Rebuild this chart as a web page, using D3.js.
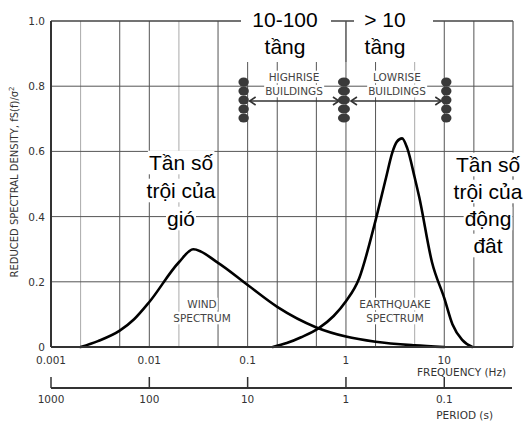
<!DOCTYPE html>
<html>
<head>
<meta charset="utf-8">
<script src="https://cdn.jsdelivr.net/npm/d3@7"></script>
<style>
  body { margin: 0; background: #fff; }
  svg { display: block; }
</style>
</head>
<body>
<div id="chart"></div>
<script>
// wind spectrum (frequency Hz -> reduced spectral density)
var wind_freq   =   [0.002, 0.003, 0.005, 0.007, 0.01, 0.02, 0.028, 0.05, 0.1, 0.2, 0.5, 1, 2, 5, 10];
var wind_val    =   [0, 0.018, 0.05, 0.085, 0.138, 0.26, 0.30, 0.258, 0.19, 0.123, 0.06, 0.032, 0.016, 0.005, 0];

// earthquake spectrum
var quake_freq  =   [0.18, 0.25, 0.35, 0.53, 0.75, 1, 1.36, 1.93, 2.56, 2.95, 3.3, 3.72, 4.2, 5, 5.56, 7.5, 10, 12.1, 15.2, 19.3];
var quake_val   =   [0, 0.012, 0.03, 0.058, 0.095, 0.14, 0.21, 0.37, 0.52, 0.595, 0.63, 0.64, 0.61, 0.52, 0.46, 0.26, 0.15, 0.07, 0.022, 0];

// axes
var freq_ticks      =   [0.001, 0.01, 0.1, 1, 10];
var freq_labels     =   ['0.001', '0.01', '0.1', '1', '10'];
var period_labels   =   ['1000', '100', '10', '1', '0.1'];
var grid_freq       =   [0.002, 0.005, 0.01, 0.02, 0.05, 0.1, 0.2, 0.5, 1, 2, 5, 10, 20];
var light_grid      =   [0.002, 0.02, 5];
var y_ticks         =   [0, 0.2, 0.4, 0.6, 0.8, 1.0];
var y_labels        =   ['0', '0.2', '0.4', '0.6', '0.8', '1.0'];

var chart_width     =   527;
var chart_height    =   422;
var svg             =   d3.select( '#chart' )
    .append( 'svg' )
    .attr( 'width', chart_width )
    .attr( 'height', chart_height );

var x_scale = d3.scaleLog()
                .domain([0.001, 50])
                .range([51, 513]);

var y_scale = d3.scaleLinear()
                .domain([0, 1])
                .range([347, 21]);

var small_font = '"DejaVu Sans", sans-serif';
var big_font   = '"Liberation Sans", Arial, sans-serif';

// grid
svg.append('g').selectAll('line')
    .data(grid_freq)
    .enter()
    .append('line')
    .attr('x1', d => x_scale(d))
    .attr('x2', d => x_scale(d))
    .attr('y1', y_scale(0))
    .attr('y2', y_scale(1))
    .attr('stroke', d => light_grid.indexOf(d) >= 0 ? '#aaa' : '#555')
    .attr('stroke-width', 1);

svg.append('g').selectAll('line')
    .data([0.2, 0.4, 0.6, 0.8])
    .enter()
    .append('line')
    .attr('x1', x_scale(0.001))
    .attr('x2', x_scale(50))
    .attr('y1', d => y_scale(d))
    .attr('y2', d => y_scale(d))
    .attr('stroke', '#555')
    .attr('stroke-width', 1);

// frame: top, right
svg.append('line').attr('x1', x_scale(0.001)).attr('x2', x_scale(50))
    .attr('y1', y_scale(1)).attr('y2', y_scale(1))
    .attr('stroke', '#444').attr('stroke-width', 1.5);
svg.append('line').attr('x1', x_scale(50)).attr('x2', x_scale(50))
    .attr('y1', y_scale(1)).attr('y2', y_scale(0))
    .attr('stroke', '#555').attr('stroke-width', 1.2);

// text with a white box behind, hides grid lines under it
function label(x, y, lines, size, font, color, lh, pad) {
    var g = svg.append('g');
    var bg = g.append('g');
    lines.forEach(function(t, i) {
        var el = g.append('text')
            .attr('x', x)
            .attr('y', y + i * lh)
            .attr('text-anchor', 'middle')
            .attr('font-family', font)
            .attr('font-size', size)
            .attr('fill', color)
            .text(t);
        var b = el.node().getBBox();
        bg.append('rect')
            .attr('x', b.x - pad).attr('y', b.y - pad * 0.3)
            .attr('width', b.width + pad * 2).attr('height', b.height + pad * 0.6)
            .attr('fill', '#fff');
    });
    return g;
}

// white boxes behind the top labels cut the frame
svg.append('rect').attr('x', 241).attr('y', 4).attr('width', 90).attr('height', 58).attr('fill', '#fff');
svg.append('rect').attr('x', 354).attr('y', 4).attr('width', 79).attr('height', 58).attr('fill', '#fff');
// the 1 Hz line is not hidden
svg.append('line').attr('x1', x_scale(1)).attr('x2', x_scale(1))
    .attr('y1', y_scale(1)).attr('y2', 62).attr('stroke', '#555');

label(285, 27, ['10-100', 'tầng'], 21, big_font, '#000', 27, 0);
label(385, 27, ['> 10', 'tầng'], 21, big_font, '#000', 27, 0);

// building labels
label(294, 81, ['HIGHRISE', 'BUILDINGS'], 10.5, small_font, '#444', 14, 1);
label(397, 81, ['LOWRISE', 'BUILDINGS'], 10.5, small_font, '#444', 14, 1);

// arrows
function arrow(xa, xb, y) {
    svg.append('line').attr('x1', xa).attr('x2', xb).attr('y1', y).attr('y2', y)
        .attr('stroke', '#333').attr('stroke-width', 1.6);
    svg.append('path')
        .attr('d', 'M' + (xa + 6) + ',' + (y - 4) + 'L' + xa + ',' + y + 'L' + (xa + 6) + ',' + (y + 4)
              + 'M' + (xb - 6) + ',' + (y - 4) + 'L' + xb + ',' + y + 'L' + (xb - 6) + ',' + (y + 4))
        .attr('fill', 'none').attr('stroke', '#333').attr('stroke-width', 1.6);
}
arrow(x_scale(0.1) + 2, x_scale(1) - 7, 101);
arrow(x_scale(1) + 5, x_scale(10) - 3, 101);

// building stacks
[[x_scale(0.1) - 4, 5.2], [x_scale(1) - 2, 6], [x_scale(10) + 2, 5.2]].forEach(function(s) {
    d3.range(5).forEach(function(i) {
        svg.append('ellipse')
            .attr('cx', s[0]).attr('cy', 82 + i * 9)
            .attr('rx', s[1]).attr('ry', 4.6)
            .attr('fill', '#3a3a3a');
    });
});

// spectrum labels
label(202, 308, ['WIND', 'SPECTRUM'], 10.5, small_font, '#444', 14, 1);
label(395, 308, ['EARTHQUAKE', 'SPECTRUM'], 10.5, small_font, '#444', 14, 1);

// big Vietnamese labels
label(181, 170, ['Tần số', 'trội của', 'gió'], 21, big_font, '#000', 28, 1);
label(488, 172, ['Tần số', 'trội của', 'động', 'đât'], 21, big_font, '#000', 27, 1);

// curves
var line = d3.line()
    .x(d => x_scale(d[0]))
    .y(d => y_scale(d[1]))
    .curve(d3.curveMonotoneX);

svg.append('path')
    .datum(d3.zip(wind_freq, wind_val))
    .attr('d', line)
    .attr('fill', 'none')
    .attr('stroke', '#000')
    .attr('stroke-width', 2.6)
    .attr('stroke-linecap', 'round');

svg.append('path')
    .datum(d3.zip(quake_freq, quake_val))
    .attr('d', line)
    .attr('fill', 'none')
    .attr('stroke', '#000')
    .attr('stroke-width', 2.6)
    .attr('stroke-linecap', 'round');

// left + bottom axis lines
svg.append('line').attr('x1', x_scale(0.001)).attr('x2', x_scale(0.001))
    .attr('y1', y_scale(1)).attr('y2', y_scale(0))
    .attr('stroke', '#333').attr('stroke-width', 2);
svg.append('line').attr('x1', x_scale(0.001)).attr('x2', x_scale(50))
    .attr('y1', y_scale(0)).attr('y2', y_scale(0))
    .attr('stroke', '#333').attr('stroke-width', 2);

// y tick labels
svg.append('g').selectAll('text')
    .data(y_ticks)
    .enter()
    .append('text')
    .attr('x', 45)
    .attr('y', d => y_scale(d) + 4)
    .attr('text-anchor', 'end')
    .attr('font-family', small_font)
    .attr('font-size', 10.5)
    .attr('fill', '#333')
    .text((d, i) => y_labels[i]);

svg.append('text')
    .attr('transform', 'translate(18,182) rotate(-90)')
    .attr('text-anchor', 'middle')
    .attr('font-family', small_font)
    .attr('font-size', 10)
    .attr('fill', '#333')
    .html('REDUCED SPECTRAL DENSITY, fS(f)/σ<tspan dy="-4" font-size="7">2</tspan>');

// frequency tick labels
svg.append('g').selectAll('text')
    .data(freq_ticks)
    .enter()
    .append('text')
    .attr('x', d => x_scale(d))
    .attr('y', 364)
    .attr('text-anchor', 'middle')
    .attr('font-family', small_font)
    .attr('font-size', 10.5)
    .attr('fill', '#333')
    .text((d, i) => freq_labels[i]);

svg.append('text')
    .attr('x', 506).attr('y', 376)
    .attr('text-anchor', 'end')
    .attr('font-family', small_font)
    .attr('font-size', 10.5)
    .attr('fill', '#333')
    .text('FREQUENCY (Hz)');

// period axis
var period_axis = svg.append('g');
period_axis.append('line')
    .attr('x1', x_scale(0.001)).attr('x2', x_scale(50) - 1)
    .attr('y1', 388).attr('y2', 388)
    .attr('stroke', '#333').attr('stroke-width', 2);
period_axis.selectAll('.ptick')
    .data(freq_ticks)
    .enter()
    .append('line')
    .attr('x1', d => x_scale(d)).attr('x2', d => x_scale(d))
    .attr('y1', 377).attr('y2', 388)
    .attr('stroke', '#333').attr('stroke-width', 1.5);
period_axis.selectAll('text')
    .data(freq_ticks)
    .enter()
    .append('text')
    .attr('x', d => x_scale(d))
    .attr('y', 403)
    .attr('text-anchor', 'middle')
    .attr('font-family', small_font)
    .attr('font-size', 10.5)
    .attr('fill', '#333')
    .text((d, i) => period_labels[i]);

svg.append('text')
    .attr('x', 493).attr('y', 419)
    .attr('text-anchor', 'end')
    .attr('font-family', small_font)
    .attr('font-size', 10.5)
    .attr('fill', '#333')
    .text('PERIOD (s)');
</script>
</body>
</html>
